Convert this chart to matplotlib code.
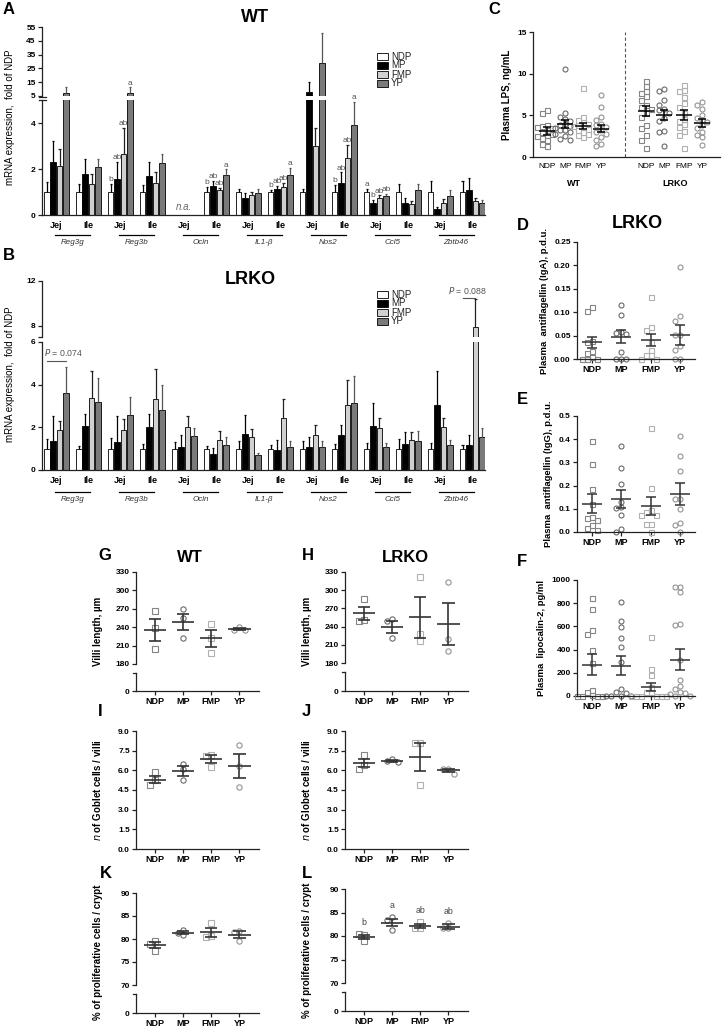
import numpy as np
import matplotlib
matplotlib.use("Agg")
import matplotlib.pyplot as plt
from matplotlib.patches import Rectangle

plt.rcParams['font.family'] = ['Liberation Sans', 'DejaVu Sans']

# ---- data ----
genes = ["Reg3g", "Reg3b", "Ocln", "IL1-β", "Nos2", "Ccl5", "Zbtb46"]
tissues = ["Jej", "Ile"]
diets = ["NDP", "MP", "FMP", "YP"]
na = np.nan

# A: WT mRNA, fold of NDP (mean, SEM), 14 groups = gene x tissue
wt_mean = {
    "NDP": [1.0, 1.0, 1.0, 1.0, na, 1.0, 1.0, 1.0, 1.0, 1.0, 1.0, 1.0, 1.0, 1.0],
    "MP":  [2.3, 1.8, 1.55, 1.7, na, 1.25, 0.74, 1.11, 7.9, 1.39, 0.53, 0.53, 0.24, 1.08],
    "FMP": [2.15, 1.35, 2.65, 1.4, na, 1.08, 0.89, 1.21, 2.99, 2.5, 0.74, 0.46, 0.53, 0.6],
    "YP":  [7.2, 2.1, 7.2, 2.25, na, 1.72, 0.97, 1.76, 29.0, 3.92, 0.83, 1.07, 0.83, 0.53],
}
wt_sem = {
    "NDP": [0.42, 0.35, 0.35, 0.3, na, 0.22, 0.11, 0.1, 0.14, 0.32, 0.15, 0.35, 0.46, 0.46],
    "MP":  [0.9, 0.65, 0.75, 0.6, na, 0.25, 0.2, 0.17, 7.0, 0.46, 0.12, 0.21, 0.11, 0.52],
    "FMP": [0.72, 0.45, 1.15, 0.45, na, 0.1, 0.12, 0.18, 0.8, 0.56, 0.12, 0.14, 0.16, 0.16],
    "YP":  [4.3, 0.35, 4.0, 0.4, na, 0.26, 0.14, 0.3, 22.0, 1.0, 0.1, 0.29, 0.24, 0.12],
}
wt_letters = {
    "NDP": {2: "b", 5: "b", 7: "b", 9: "b", 10: "a"},
    "MP":  {2: "ab", 5: "ab", 7: "ab", 9: "ab", 10: "b"},
    "FMP": {2: "ab", 5: "ab", 7: "ab", 9: "ab", 10: "ab"},
    "YP":  {2: "a", 5: "a", 7: "a", 9: "a", 10: "ab"},
}

# B: LRKO mRNA
ko_mean = {
    "NDP": [1.0] * 14,
    "MP":  [1.37, 2.08, 1.31, 2.02, 1.09, 0.76, 1.7, 0.93, 1.07, 1.64, 2.05, 1.23, 3.04, 1.18],
    "FMP": [1.87, 3.39, 1.89, 3.31, 2.03, 1.39, 1.54, 2.44, 1.65, 3.07, 1.97, 1.42, 2.02, 7.9],
    "YP":  [3.62, 3.2, 2.6, 2.8, 1.61, 1.18, 0.71, 1.06, 1.06, 3.12, 1.06, 1.37, 1.18, 1.54],
}
ko_sem = {
    "NDP": [0.45, 0.13, 0.5, 0.2, 0.29, 0.13, 0.37, 0.15, 0.34, 0.23, 0.26, 0.45, 0.26, 0.17],
    "MP":  [1.15, 0.55, 1.21, 0.61, 0.56, 0.26, 0.87, 0.49, 0.47, 0.49, 1.1, 0.53, 1.61, 0.47],
    "FMP": [0.41, 1.26, 0.5, 1.41, 0.49, 0.42, 0.4, 0.87, 0.48, 1.13, 0.47, 0.34, 0.42, 2.5],
    "YP":  [1.21, 1.1, 0.82, 1.17, 0.34, 0.36, 0.08, 0.28, 0.29, 1.29, 0.2, 0.47, 0.21, 0.43],
}

# C: plasma LPS, ng/mL
lps_wt = {
    "NDP": [5.6, 5.3, 3.9, 3.7, 3.5, 3.3, 3.0, 2.8, 2.6, 2.3, 2.0, 1.6, 1.3, 2.5, 3.6],
    "MP":  [10.6, 5.3, 4.8, 4.6, 4.3, 4.0, 3.9, 3.7, 3.5, 3.3, 3.2, 3.0, 2.8, 2.5, 2.2, 2.0],
    "FMP": [8.3, 4.8, 4.4, 4.2, 4.0, 3.8, 3.7, 3.6, 3.4, 3.2, 3.0, 2.8, 2.6, 2.4],
    "YP":  [7.5, 6.0, 4.8, 4.4, 4.0, 3.8, 3.6, 3.2, 3.0, 2.8, 2.4, 2.0, 1.6, 1.3],
}
lps_ko = {
    "NDP": [9.1, 8.5, 7.9, 7.7, 7.3, 6.8, 6.3, 6.0, 5.8, 5.3, 4.8, 3.9, 3.5, 2.6, 2.1, 1.1],
    "MP":  [8.2, 7.9, 6.8, 6.3, 5.8, 5.6, 5.3, 4.7, 4.3, 3.1, 3.0, 1.3],
    "FMP": [8.7, 8.1, 7.9, 7.2, 6.5, 6.0, 5.3, 4.6, 4.3, 4.0, 3.6, 3.1, 2.6, 1.1],
    "YP":  [6.6, 6.2, 5.8, 5.0, 4.7, 4.4, 4.2, 3.8, 3.5, 3.0, 2.6, 2.4, 1.5],
}
lps_mean = [3.1, 4.0, 3.7, 3.4, 5.5, 5.1, 5.0, 4.1]
lps_sem = [0.5, 0.5, 0.35, 0.45, 0.6, 0.6, 0.6, 0.45]

# D: anti-flagellin IgA, E: anti-flagellin IgG, F: lipocalin-2 (LRKO)
iga = {
    "NDP": [0.112, 0.102, 0.038, 0.036, 0.017, 0.012, 0.005, 0.0, 0.0, 0.0],
    "MP":  [0.115, 0.094, 0.057, 0.055, 0.053, 0.016, 0.0, 0.0, 0.0],
    "FMP": [0.133, 0.069, 0.062, 0.037, 0.02, 0.009, 0.008, 0.0, 0.0],
    "YP":  [0.197, 0.091, 0.081, 0.052, 0.051, 0.027, 0.02, 0.0, 0.0],
}
iga_mean = [0.036, 0.048, 0.040, 0.051]
iga_sem = [0.012, 0.013, 0.013, 0.021]

igg = {
    "NDP": [0.392, 0.291, 0.186, 0.122, 0.065, 0.06, 0.053, 0.029, 0.019, 0.01],
    "MP":  [0.37, 0.275, 0.207, 0.13, 0.108, 0.103, 0.075, 0.014, 0.0],
    "FMP": [0.45, 0.19, 0.093, 0.086, 0.075, 0.072, 0.036, 0.036, 0.0],
    "YP":  [0.414, 0.328, 0.264, 0.144, 0.143, 0.097, 0.039, 0.032, 0.0],
}
igg_mean = [0.122, 0.142, 0.112, 0.163]
igg_sem = [0.04, 0.04, 0.04, 0.047]

lcn2 = {
    "NDP": [848, 753, 569, 534, 397, 287, 52, 37, 9, 0, 0, 0, 0],
    "MP":  [808, 649, 598, 497, 425, 296, 60, 37, 23, 0, 0, 0, 0],
    "FMP": [511, 230, 181, 80, 37, 37, 0, 0, 0, 0, 0, 0],
    "YP":  [942, 940, 893, 618, 612, 310, 138, 86, 57, 37, 29, 17, 0, 0],
}
lcn2_mean = [268, 262, 80, 312]
lcn2_sem = [90, 82, 35, 90]

# G/H villi length, I/J goblet cells, K/L proliferative cells
villi_wt = {"NDP": [266, 239, 205], "MP": [270, 255, 223], "FMP": [246, 222, 198], "YP": [240, 236, 235]}
villi_wt_mean = [236, 249, 222, 237]
villi_wt_sem = [18, 13, 14, 1.5]
villi_ko = {"NDP": [285, 251, 250], "MP": [253, 249, 221], "FMP": [322, 228, 216], "YP": [313, 219, 200]}
villi_ko_mean = [262, 240, 255, 244]
villi_ko_sem = [11, 10, 34, 35]

gob_wt = {"NDP": [5.9, 5.26, 4.9], "MP": [6.5, 6.1, 5.3], "FMP": [7.2, 7.1, 6.25], "YP": [7.9, 6.3, 4.75]}
gob_wt_mean = [5.3, 5.95, 6.85, 6.33]
gob_wt_sem = [0.3, 0.35, 0.3, 0.93]
gob_ko = {"NDP": [7.2, 6.4, 6.1], "MP": [6.85, 6.7, 6.6], "FMP": [8.1, 8.05, 4.85], "YP": [6.08, 6.08, 5.75]}
gob_ko_mean = [6.58, 6.72, 7.0, 6.0]
gob_ko_sem = [0.32, 0.07, 1.07, 0.1]

prol_wt = {"NDP": [79.5, 79.0, 77.5], "MP": [82.0, 80.9, 81.2], "FMP": [83.4, 80.6, 80.5], "YP": [81.8, 81.5, 79.6]}
prol_wt_mean = [78.67, 81.35, 81.5, 80.97]
prol_wt_sem = [0.6, 0.35, 1.0, 0.7]
prol_ko = {"NDP": [80.2, 80.4, 78.9], "MP": [84.1, 83.3, 81.2], "FMP": [83.0, 81.8, 81.7], "YP": [82.7, 81.7, 81.6]}
prol_ko_mean = [79.8, 82.85, 82.15, 82.0]
prol_ko_sem = [0.35, 0.75, 0.45, 0.45]
prol_ko_letters = ["b", "a", "ab", "ab"]

# ---- figure ----
W, H = 723, 1030
fig = plt.figure(figsize=(W / 100, H / 100), dpi=100)


def add_ax(l, t, r, b):
    return fig.add_axes([l / W, 1 - b / H, (r - l) / W, (b - t) / H])


def style(ax, fs=6, bold=True, bottom=True):
    for s in ("top", "right"):
        ax.spines[s].set_visible(False)
    for s in ("left", "bottom"):
        ax.spines[s].set_linewidth(0.9)
        ax.spines[s].set_color("#222222")
    if not bottom:
        ax.spines["bottom"].set_visible(False)
        ax.tick_params(axis="x", bottom=False, labelbottom=False)
    ax.tick_params(direction="out", length=3, width=0.9, color="#222222", labelsize=fs, pad=1.5)
    w = "bold" if bold else "normal"
    plt.setp(ax.get_yticklabels(), fontweight=w)
    plt.setp(ax.get_xticklabels(), fontweight="bold")


ov = fig.add_axes([0, 0, 1, 1], zorder=10)
ov.set_xlim(0, W)
ov.set_ylim(H, 0)
ov.axis("off")


def letter(x, y, s, fs=12):
    ov.text(x, y, s, fontsize=fs, fontweight="bold", ha="left", va="center")


# ---- bar panels A and B ----
offs = np.array([-0.3, -0.1, 0.1, 0.3])
bar_face = {"NDP": "white", "MP": "black", "FMP": "#d0d0d0", "YP": "#7a7a7a"}
err_col = {"NDP": "black", "MP": "black", "FMP": "#222222", "YP": "#555555"}
gx = np.arange(len(genes) * len(tissues))


def bar_panel(lo, hi, mean, sem, split, letters=None):
    for k, d in enumerate(diets):
        m = np.array(mean[d], float)
        e = np.array(sem[d], float)
        xx = gx + offs[k]
        for ax in (lo, hi):
            ax.bar(xx, m, width=0.17, color=bar_face[d], edgecolor="black", linewidth=0.6)
            ax.vlines(xx, m, m + e, color=err_col[d], lw=0.9)
            ax.hlines(m + e, xx - 0.035, xx + 0.035, color=err_col[d], lw=0.9)
        if letters:
            for i, s in letters[d].items():
                top = m[i] + e[i]
                ax = hi if top > split else lo
                ax.annotate(s, (xx[i], top), xytext=(0, 0.5), textcoords="offset points",
                            ha="center", va="bottom", fontsize=6, color="#555555")
    lo.set_xlim(-0.45, 13.4)
    hi.set_xlim(-0.45, 13.4)
    lo.set_xticks(gx, tissues * len(genes))
    tr = lo.get_xaxis_transform()
    for g, name in enumerate(genes):
        lo.plot([2 * g - 0.05, 2 * g + 1.05], [-0.175, -0.175], transform=tr, color="black",
                lw=0.9, clip_on=False)
        lo.text(2 * g + 0.5, -0.205, name, transform=tr, ha="center", va="top",
                fontsize=5.8, style="italic", color="#333333")


def bar_legend(x, y):
    for k, d in enumerate(diets):
        ov.add_patch(Rectangle((x, y + 9 * k), 11, 6.5, facecolor=bar_face[d], edgecolor="black", lw=0.6))
        ov.text(x + 14, y + 9 * k + 3.5, d, fontsize=7, va="center", ha="left", color="#222222")


def break_marks(x, ys):
    for y in ys:
        ov.plot([x - 3.5, x + 3.5], [y, y], color="#222222", lw=0.9)


# A
a_hi = add_ax(42, 27, 485, 96)
a_lo = add_ax(42, 100, 485, 215)
bar_panel(a_lo, a_hi, wt_mean, wt_sem, 5, wt_letters)
a_hi.set_ylim(5, 55)
a_hi.set_yticks([5, 15, 25, 35, 45, 55])
a_lo.set_ylim(0, 5)
a_lo.set_yticks([0, 2, 4])
a_lo.text(4, 0.12, "n.a.", ha="center", va="bottom", fontsize=7, style="italic", color="#666666")
style(a_hi, bottom=False)
style(a_lo, fs=6)
plt.setp(a_lo.get_xticklabels(), fontsize=6.5)
a_lo.tick_params(axis="x", length=0, pad=4)
a_lo.set_ylabel("mRNA expression,  fold of NDP", fontsize=7)
a_lo.yaxis.set_label_coords(-0.06, 0.85)
break_marks(42, [96.5, 99.5])
bar_legend(377, 53)
letter(3, 10, "A")
ov.text(255, 17, "WT", fontsize=13, fontweight="bold", ha="center", va="center")

# B
b_hi = add_ax(42, 281, 485, 337)
b_lo = add_ax(42, 342, 485, 470)
bar_panel(b_lo, b_hi, ko_mean, ko_sem, 6)
b_hi.set_ylim(7, 12)
b_hi.set_yticks([7, 8, 12], ["", "8", "12"])
b_lo.set_ylim(0, 6)
b_lo.set_yticks([0, 2, 4, 6])
style(b_hi, bottom=False)
style(b_lo)
plt.setp(b_lo.get_xticklabels(), fontsize=6.5)
b_lo.tick_params(axis="x", length=0, pad=4)
b_lo.set_ylabel("mRNA expression,  fold of NDP", fontsize=7)
b_lo.yaxis.set_label_coords(-0.06, 0.75)
# significance bars
b_lo.plot([0 + offs[0], 0 + offs[3]], [5.1, 5.1], color="#555555", lw=0.8)
b_lo.text(offs[0] - 0.08, 5.25, "$P$ = 0.074", fontsize=6.3, color="#555555", ha="left", va="bottom")
b_hi.plot([13 + offs[0], 13 + offs[2]], [10.5, 10.5], color="#555555", lw=0.8, clip_on=False)
b_hi.text(12.85, 10.65, "$P$ = 0.088", fontsize=6.3, color="#555555", ha="center", va="bottom")
bar_legend(377, 291)
letter(3, 255, "B")
ov.text(250, 280, "LRKO", fontsize=13, fontweight="bold", ha="center", va="center")

# ---- dot plots ----
mk = {"NDP": "s", "MP": "o", "FMP": "s", "YP": "o"}
mc = {"NDP": "#858585", "MP": "#6a6a6a", "FMP": "#b0b0b0", "YP": "#939393"}


def swarm(vals, thr, step):
    placed = []
    out = []
    seq = [0.0] + [s * j * step for j in range(1, 12) for s in (-1, 1)]
    for v in vals:
        used = [o for (pv, o) in placed if abs(pv - v) < thr]
        pick = seq[0]
        for c in seq:
            if all(abs(c - u) > step * 0.9 for u in used):
                pick = c
                break
        placed.append((v, pick))
        out.append(pick)
    return np.array(out)


def dots(ax, xs, data, means, sems, thr, step, hw=0.38, cw=0.2, col="black", lw=1.1, ms=3.6):
    for x, d, m, s in zip(xs, diets, means, sems):
        v = np.array(data[d], float)
        ax.plot(x + swarm(v, thr, step), v, ls="none", marker=mk[d], ms=ms, mfc="none",
                mec=mc[d], mew=0.8, clip_on=False, zorder=2)
        ax.hlines(m, x - hw, x + hw, color=col, lw=lw, zorder=3)
        ax.vlines(x, m - s, m + s, color=col, lw=lw, zorder=3)
        ax.hlines([m - s, m + s], x - cw, x + cw, color=col, lw=lw, zorder=3)


# C
c_ax = add_ax(533, 32, 720, 157)
cx = [0, 1, 2, 3, 5.5, 6.5, 7.6, 8.6]
dots(c_ax, cx[:4], lps_wt, lps_mean[:4], lps_sem[:4], 0.55, 0.28, hw=0.45, cw=0.22)
dots(c_ax, cx[4:], lps_ko, lps_mean[4:], lps_sem[4:], 0.55, 0.28, hw=0.45, cw=0.22)
c_ax.axvline(4.3, color="#555555", lw=0.8, ls=(0, (3, 2)))
c_ax.set_xlim(-0.8, 9.6)
c_ax.set_ylim(0, 15)
c_ax.set_yticks([0, 5, 10, 15])
c_ax.set_xticks(cx, diets * 2)
style(c_ax)
plt.setp(c_ax.get_xticklabels(), fontweight="normal", fontsize=6)
c_ax.tick_params(axis="x", length=0, pad=4)
c_ax.set_ylabel("Plasma LPS, ng/mL", fontsize=7, fontweight="bold")
ov.text(574, 183, "WT", fontsize=6.5, fontweight="bold", ha="center", va="center")
ov.text(675, 183, "LRKO", fontsize=6.5, fontweight="bold", ha="center", va="center")
letter(488, 10, "C")

x4 = np.arange(4)


def small_dot_axis(ax, xlim=(-0.5, 3.5)):
    ax.set_xlim(*xlim)
    ax.set_xticks(x4, diets)


# D
d_ax = add_ax(577, 242, 695, 359)
dots(d_ax, x4, iga, iga_mean, iga_sem, 0.011, 0.17, hw=0.34, cw=0.17, col="#333333")
small_dot_axis(d_ax)
d_ax.set_ylim(0, 0.25)
d_ax.set_yticks(np.arange(0, 0.26, 0.05), [f"{t:.2f}" for t in np.arange(0, 0.26, 0.05)])
style(d_ax)
plt.setp(d_ax.get_xticklabels(), fontsize=6.5)
d_ax.set_ylabel("Plasma  antiflagellin (IgA), p.d.u.", fontsize=6.8, fontweight="bold")
letter(517, 226, "D")
ov.text(637, 224, "LRKO", fontsize=13, fontweight="bold", ha="center", va="center")

# E
e_ax = add_ax(577, 416, 695, 532)
dots(e_ax, x4, igg, igg_mean, igg_sem, 0.022, 0.17, hw=0.34, cw=0.17, col="#333333")
small_dot_axis(e_ax)
e_ax.set_ylim(0, 0.5)
e_ax.set_yticks(np.arange(0, 0.51, 0.1), [f"{t:.1f}" for t in np.arange(0, 0.51, 0.1)])
style(e_ax)
plt.setp(e_ax.get_xticklabels(), fontsize=6.5)
e_ax.set_ylabel("Plasma  antiflagellin (IgG), p.d.u.", fontsize=6.8, fontweight="bold")
letter(517, 400, "E")

# F
f_ax = add_ax(577, 580, 695, 696)
dots(f_ax, x4, lcn2, lcn2_mean, lcn2_sem, 43, 0.17, hw=0.34, cw=0.17, col="#333333")
small_dot_axis(f_ax)
f_ax.set_ylim(0, 1000)
f_ax.set_yticks(np.arange(0, 1001, 200))
style(f_ax)
plt.setp(f_ax.get_xticklabels(), fontsize=6.5)
f_ax.set_ylabel("Plasma  lipocalin-2, pg/ml", fontsize=6.8, fontweight="bold")
letter(517, 562, "F")


def broken_dot(l, r, t_hi, b_hi, t_lo, b_lo, data, means, sems, ylim, ticks, thr, ylabel, fmt=None):
    hi = add_ax(l, t_hi, r, b_hi)
    lo = add_ax(l, t_lo, r, b_lo)
    dots(hi, x4, data, means, sems, thr, 0.19, hw=0.4, cw=0.22, col="#333333", lw=1.2, ms=3.8)
    for ax in (hi, lo):
        ax.set_xlim(-0.68, 3.7)
    hi.set_ylim(*ylim)
    hi.set_yticks(ticks)
    lo.set_ylim(0, 1)
    lo.set_yticks([0])
    lo.set_xticks(x4, diets)
    style(hi, bottom=False)
    style(lo)
    plt.setp(lo.get_xticklabels(), fontsize=6.5)
    ov.plot([l - 3, l], [t_lo, t_lo], color="#222222", lw=0.9)
    hi.set_ylabel(ylabel, fontsize=7, fontweight="bold")
    hi.yaxis.set_label_coords(-0.27, 0.35)
    return hi, lo


def plain_dot(l, r, t, b, data, means, sems, thr, ylabel):
    ax = add_ax(l, t, r, b)
    dots(ax, x4, data, means, sems, thr, 0.19, hw=0.4, cw=0.22, col="#333333", lw=1.2, ms=3.8)
    ax.set_xlim(-0.68, 3.7)
    ax.set_ylim(0, 9)
    tk = np.arange(0, 9.1, 1.5)
    ax.set_yticks(tk, [f"{t:.1f}" for t in tk])
    ax.set_xticks(x4, diets)
    style(ax)
    plt.setp(ax.get_xticklabels(), fontsize=6.5)
    ax.set_ylabel(ylabel, fontsize=7, fontweight="bold")
    ax.yaxis.set_label_coords(-0.27, 0.5)
    return ax


# G, H
broken_dot(136, 259, 572, 664, 673, 691, villi_wt, villi_wt_mean, villi_wt_sem, (180, 330),
           np.arange(180, 331, 30), 8, "Villi length, µm")
broken_dot(345, 468, 572, 663, 672, 691, villi_ko, villi_ko_mean, villi_ko_sem, (180, 330),
           np.arange(180, 331, 30), 8, "Villi length, µm")
letter(98, 555, "G")
ov.text(190, 558, "WT", fontsize=12, fontweight="bold", ha="center", va="center")
letter(302, 555, "H")
ov.text(405, 558, "LRKO", fontsize=12, fontweight="bold", ha="center", va="center")

# I, J
plain_dot(136, 259, 731, 849, gob_wt, gob_wt_mean, gob_wt_sem, 0.37, "$n$ of Goblet cells / villi")
plain_dot(345, 468, 731, 849, gob_ko, gob_ko_mean, gob_ko_sem, 0.37, "$n$ of Globet cells / villi")
letter(98, 711, "I")
letter(302, 712, "J")

# K, L
broken_dot(136, 259, 893, 985, 994, 1013, prol_wt, prol_wt_mean, prol_wt_sem, (70, 90),
           np.arange(70, 91, 5), 1.0, "% of proliferative cells / crypt")
l_hi, l_lo = broken_dot(345, 468, 889, 983, 992, 1011, prol_ko, prol_ko_mean, prol_ko_sem, (70, 90),
                        np.arange(70, 91, 5), 1.0, "% of proliferative cells / crypt")
for x, m, s, t in zip(x4, prol_ko_mean, prol_ko_sem, prol_ko_letters):
    l_hi.annotate(t, (x, max(prol_ko[diets[x]])), xytext=(0, 5), textcoords="offset points",
                  ha="center", va="bottom", fontsize=6.3, color="#444444")
letter(100, 873, "K")
letter(302, 873, "L")

fig.savefig("out.png", dpi=100)
